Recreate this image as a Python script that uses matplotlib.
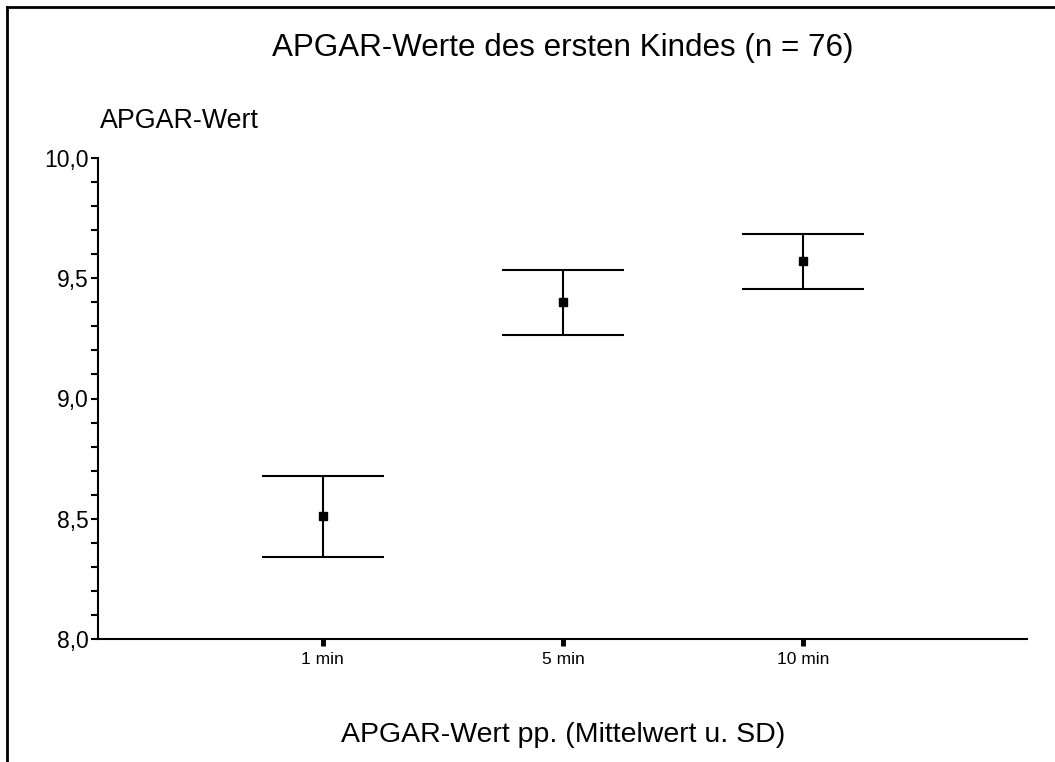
import matplotlib
matplotlib.use("Agg")
import matplotlib.pyplot as plt
from matplotlib.lines import Line2D
from matplotlib.ticker import FixedLocator, MultipleLocator

plt.rcParams["font.family"] = ["Liberation Sans", "DejaVu Sans"]

# data
categories = ["1 min", "5 min", "10 min"]
means = [8.51, 9.40, 9.57]
sds = [0.168, 0.136, 0.115]

title = "APGAR-Werte des ersten Kindes (n = 76)"
ylabel = "APGAR-Wert"
xlabel = "APGAR-Wert pp. (Mittelwert u. SD)"

W, H = 1055, 762
fig = plt.figure(figsize=(W / 100, H / 100), dpi=100)
ax = fig.add_axes([98 / W, 1 - 639 / H, (1027 - 98) / W, (639 - 158) / H])

xs = list(range(1, len(categories) + 1))
ax.errorbar(xs, means, yerr=sds, fmt="s", color="black", ms=6,
            elinewidth=1.5, capsize=44, capthick=1.5)

ax.set_xlim(0.066, 3.93)
ax.set_ylim(8.0, 10.0)
ax.xaxis.set_major_locator(FixedLocator(xs))
ax.set_xticklabels(categories, fontsize=12)
ax.yaxis.set_major_locator(MultipleLocator(0.5))
ax.yaxis.set_minor_locator(MultipleLocator(0.1))
ax.yaxis.set_major_formatter(lambda v, p: f"{v:.1f}".replace(".", ","))
ax.tick_params(axis="y", which="both", direction="out", length=5, width=1.5,
               labelsize=16.5, pad=2)
ax.tick_params(axis="x", direction="out", length=5, width=3.5, labelsize=12.5, pad=4)

for side in ("top", "right"):
    ax.spines[side].set_visible(False)
for side in ("left", "bottom"):
    ax.spines[side].set_linewidth(1.5)

fig.text(563 / W, 1 - 48 / H, title, ha="center", va="center", fontsize=22.6)
fig.text(100 / W, 1 - 121 / H, ylabel, ha="left", va="center", fontsize=19.3)
fig.text(563 / W, 1 - 735 / H, xlabel, ha="center", va="center", fontsize=20.5)

# frame: only left and top edges are inside the picture
fig.add_artist(Line2D([7 / W, 7 / W], [0, 1 - 7 / H], color="black", lw=2,
                      transform=fig.transFigure))
fig.add_artist(Line2D([7 / W, 1], [1 - 7 / H, 1 - 7 / H], color="black", lw=2,
                      transform=fig.transFigure))

fig.savefig("out.png", dpi=100)
